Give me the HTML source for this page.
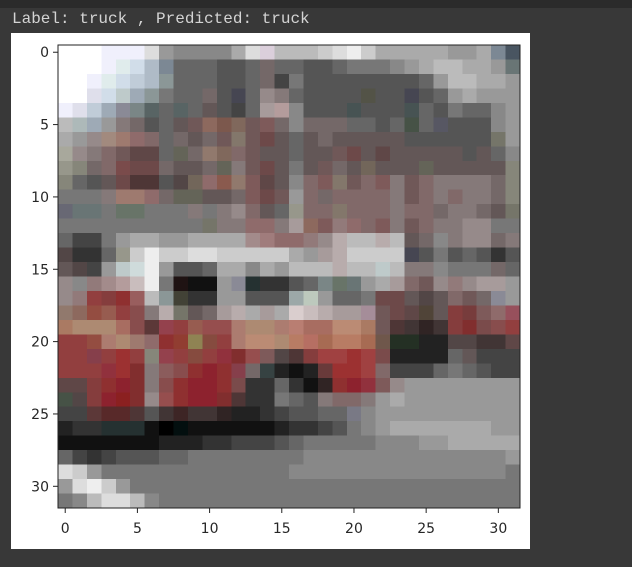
<!DOCTYPE html>
<html><head><meta charset="utf-8"><style>
html,body{margin:0;padding:0;background:#383838;width:632px;height:567px;overflow:hidden}
#top{position:absolute;left:0;top:0;width:632px;height:8px;background:#2b2b2b}
#title{position:absolute;left:12px;top:10px;font:16px "Liberation Mono","DejaVu Sans Mono",monospace;color:#d4d4d4;white-space:pre}
#fig{position:absolute;left:11px;top:33px;width:519px;height:516px;background:#fff}
svg{position:absolute;left:0;top:0}
</style></head><body>
<div id="top"></div>
<div id="title">Label: truck , Predicted: truck</div>
<div id="fig"></div>
<svg id="chart" width="632" height="567"></svg>
<script>
const rows = [
"fff fff fff eef eef eef ddd 999 888 888 888 888 aaa ddd dcd bbb bbb bbb ccc ddd eee ccc aaa aaa aaa aaa aaa 999 999 aaa 789 456",
"fff fff fff eef dee cde abc 789 666 666 666 555 555 666 766 666 666 555 555 666 777 777 777 888 999 aaa bbb bbb aaa aaa 999 677",
"fff fff eef dee cde bcd abc 899 666 666 666 555 555 666 766 444 777 555 555 555 555 555 555 555 555 666 999 bbb bbb aaa aaa 999",
"fff fff dde cde bcc 9ab 899 777 666 666 766 555 445 666 988 877 666 555 555 555 555 554 555 555 445 555 666 999 aaa 999 999 999",
"eef dde bcd 9ab 889 788 566 666 566 666 655 555 444 666 a99 b99 888 555 555 555 455 555 555 555 455 666 555 777 666 666 888 999",
"bbb abb 9ab 999 877 766 555 666 655 755 965 854 865 755 855 766 888 766 766 766 666 666 555 666 454 666 556 555 555 555 888 999",
"aaa 999 988 a87 a76 966 866 666 766 655 766 755 876 755 744 655 666 655 766 655 655 655 655 655 555 555 555 555 555 555 776 999",
"aa9 988 877 866 755 644 644 666 665 766 976 865 866 755 655 655 666 655 655 755 744 655 644 655 655 655 655 655 555 655 666 888",
"998 887 766 866 844 744 744 766 655 655 766 665 877 755 744 655 777 655 755 766 655 765 655 655 655 665 655 655 655 655 655 887",
"887 666 555 655 744 533 533 555 544 765 966 954 976 855 644 655 888 866 855 876 755 866 855 877 755 866 877 877 877 877 766 887",
"777 777 777 877 a76 a76 966 766 665 665 655 655 766 855 744 755 999 866 766 866 866 866 866 877 755 866 877 866 877 877 766 887",
"667 677 677 777 676 676 777 777 777 877 777 877 988 866 655 666 998 866 866 876 866 866 866 877 866 866 766 877 877 766 655 776",
"777 777 777 777 777 777 777 777 777 777 776 877 877 966 966 877 a99 965 855 977 966 866 855 877 755 866 877 877 988 988 777 777",
"666 444 444 777 999 aaa aaa 999 999 aaa aaa aaa aaa a88 a77 966 966 977 988 baa bbb bbb baa bbb 655 766 888 877 988 988 766 877",
"544 333 333 666 998 ccc eee ccc ccc ddd ddd ccc ccc ccc ccc ccc aaa 999 a99 baa ccc ccc ccc ccc 445 555 777 555 666 555 333 555",
"655 544 444 999 bcc cdd eee 999 555 555 666 aaa aaa 888 aaa 999 bbb bbb bbb baa bbb bbb bcc bbb 877 877 888 777 777 777 766 666",
"988 888 977 a88 b99 cbb eee 777 211 111 111 999 889 233 333 333 555 666 788 676 677 999 aaa a99 866 755 988 977 988 a99 a99 999",
"988 977 a33 933 a22 a55 bbb 899 443 333 333 999 999 555 555 555 9aa bcb 999 666 666 777 744 744 655 544 655 866 755 766 889 999",
"976 965 a43 a54 a33 944 877 baa 776 655 766 a99 baa aaa a99 aaa dcc cbb baa a99 a99 a89 755 744 644 543 655 933 833 855 966 a45",
"b75 b86 b86 b86 b65 944 633 a34 a33 a54 a44 a44 b76 b86 b86 b76 c76 b65 b65 c86 c86 b75 755 533 433 322 433 933 922 844 944 a33",
"a33 a33 a43 b76 b86 a76 966 a22 a32 984 943 a33 b76 c86 c86 b86 c75 c65 b64 c75 c75 b64 754 232 232 222 222 544 544 433 433 644",
"a33 a33 934 a33 b22 a33 887 a34 a33 943 a33 a23 922 a44 855 544 533 933 b33 b33 b22 b33 844 222 222 222 222 666 655 444 444 444",
"a33 a33 a33 a23 b22 922 877 955 944 a22 a12 a22 934 766 344 222 111 222 733 b22 b22 b33 866 444 444 444 666 777 666 555 444 444",
"644 644 933 a22 a12 922 877 944 a22 a12 a12 a22 844 333 333 666 333 111 322 a22 a12 a23 855 988 999 999 999 999 999 999 999 999",
"454 544 933 a12 a11 922 988 a44 a22 a12 a12 922 533 333 333 777 666 555 877 866 866 877 999 aaa 999 999 999 999 999 999 999 999",
"444 444 633 622 622 533 555 433 422 433 433 322 222 222 333 444 555 555 666 666 778 888 999 999 999 999 999 999 999 999 999 999",
"222 333 333 233 233 233 111 000 011 111 111 111 111 111 111 222 333 333 444 555 777 888 999 aaa aaa aaa aaa aaa aaa aaa 999 999",
"111 111 111 111 111 111 111 222 222 222 333 333 444 444 444 555 666 777 777 777 777 777 888 888 888 999 999 aaa aaa aaa aaa aaa",
"666 444 333 444 555 555 555 666 666 777 777 777 777 777 777 777 777 888 888 888 888 888 888 888 888 888 888 888 888 888 888 999",
"ddd ccc 999 777 777 777 777 777 777 777 777 777 777 777 777 777 888 888 888 888 888 888 888 888 888 888 888 888 888 888 888 777",
"999 ddd eee ccc 999 777 777 777 777 777 777 777 777 777 777 777 777 777 777 777 777 777 777 777 777 777 777 777 777 777 777 777",
"777 888 bbb ddd ddd bbb 888 777 777 777 777 777 777 777 777 777 777 777 777 777 777 777 777 777 777 777 777 777 777 777 777 777"
];
const xTicks = [0,5,10,15,20,25,30];
const yTicks = [0,5,10,15,20,25,30];
const NS = "http://www.w3.org/2000/svg";
const svg = document.getElementById('chart');
const L = 58, T = 45, W = 462, H = 463, N = 32;
const xs = v => L + (v + 0.5) * W / N;
const ys = v => T + (v + 0.5) * H / N;
function mk(tag, attrs){const e=document.createElementNS(NS,tag);for(const k in attrs)e.setAttribute(k,attrs[k]);return e;}
function soften(c){
  const ch = c.split('').map(h => parseInt(h,16)*17);
  const m = (ch[0]+ch[1]+ch[2])/3;
  const k = ch.map(v => Math.round(m + 0.7*(v-m)));
  return 'rgb(' + k.join(',') + ')';
}
const g = mk('g', {'shape-rendering':'crispEdges'});


svg.appendChild(g);
rows.forEach((r, yi) => {
  r.split(' ').forEach((c, xi) => {
    const x0 = xs(xi - 0.5), x1 = xs(xi + 0.5), y0 = ys(yi - 0.5), y1 = ys(yi + 0.5);
    const rc = mk('rect', {x: x0, y: y0, width: x1 - x0 + 0.5, height: y1 - y0 + 0.5, fill: soften(c)});
    
    
    g.appendChild(rc);
  });
});
const frame = mk('rect', {x: L, y: T, width: W, height: H, fill: 'none', stroke: '#222', 'stroke-width': 1});


svg.appendChild(frame);
xTicks.forEach(v => {
  const x = xs(v);
  const tk = mk('line', {x1: x, x2: x, y1: T + H, y2: T + H + 5, stroke: '#222'});
  
  
  svg.appendChild(tk);
  const t = mk('text', {x: x, y: T + H + 25, 'text-anchor': 'middle', 'font-family': 'DejaVu Sans, sans-serif', 'font-size': 14, fill: '#262626'});
  t.textContent = v;
  
  
  svg.appendChild(t);
});
yTicks.forEach(v => {
  const y = ys(v);
  const tk = mk('line', {x1: L - 5, x2: L, y1: y, y2: y, stroke: '#222'});
  
  
  svg.appendChild(tk);
  const t = mk('text', {x: L - 9, y: y + 5, 'text-anchor': 'end', 'font-family': 'DejaVu Sans, sans-serif', 'font-size': 14, fill: '#262626'});
  t.textContent = v;
  
  
  svg.appendChild(t);
});
</script>
</body></html>
